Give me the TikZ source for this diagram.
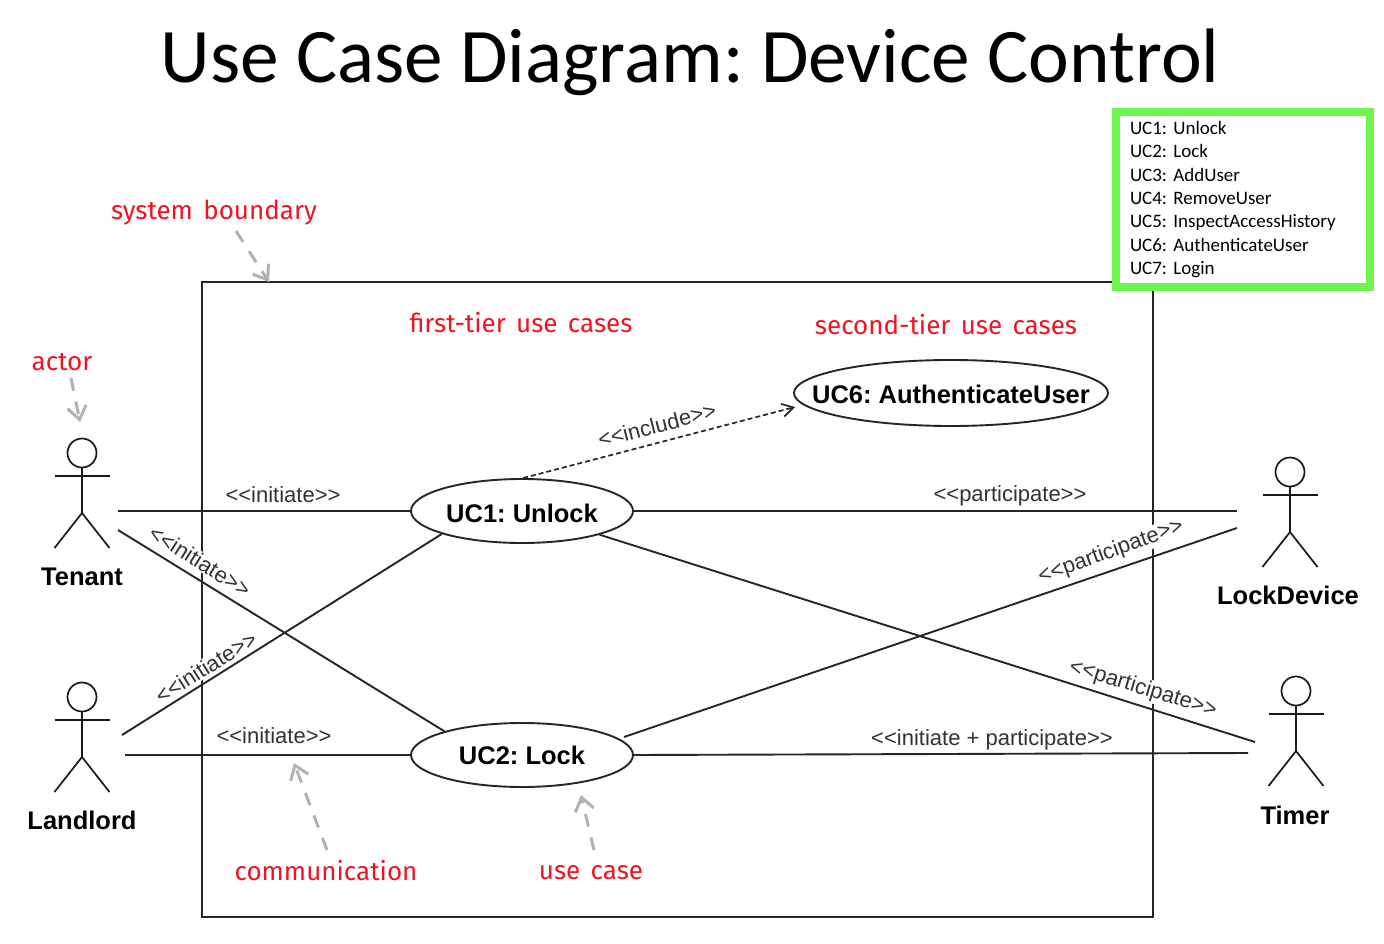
\documentclass[tikz,border=0pt]{standalone}
\usepackage{fontspec}
\setmainfont{Liberation Sans}
\newfontfamily\carlito{Carlito}
\newfontfamily\handfont[WordSpace=1.5]{Fira Sans}
\usetikzlibrary{shapes.geometric,arrows.meta}
\definecolor{notered}{RGB}{240,20,35}
\definecolor{legendgreen}{RGB}{112,245,80}
\tikzset{
  ucase/.style={draw=black!85,ellipse,line width=1.9pt,fill=white,inner sep=0pt,font=\fontsize{25.5}{30}\selectfont\bfseries},
  link/.style={draw=black!85,line width=1.9pt},
  incl/.style={draw=black!85,line width=1.7pt,dash pattern=on 5pt off 3pt,-{Straight Barb[length=11pt,width=13pt,line width=1.7pt]}},
  stereo/.style={font=\fontsize{22}{26}\selectfont,text=black!80,inner sep=1pt},
  stereow/.style={stereo,fill=white},
  note/.style={font=\handfont\fontsize{26}{30}\selectfont,text=notered,inner sep=1pt},
  pointer/.style={draw=black!30,line width=3pt,dash pattern=on 13pt off 11pt,-{Straight Barb[length=13pt,width=19pt,line width=3pt]}},
  actorname/.style={font=\fontsize{25.5}{30}\selectfont\bfseries,inner sep=1pt},
  stick/.style={draw=black!90,line width=1.7pt},
}
% actor: centre x, head y
\newcommand{\stickman}[3]{%
  \node[stick,circle,minimum size=29pt,inner sep=0pt] (#3head) at (#1,#2) {};
  \coordinate (#3hip) at (#1,#2+60);
  \draw[stick] (#3head) -- (#3hip);
  \draw[stick] (#1-27.5,#2+23) -- (#1+27.5,#2+23);
  \draw[stick] (#1-27.5,#2+95) -- (#3hip) -- (#1+27.5,#2+95);
}
\begin{document}
\frenchspacing
\begin{tikzpicture}[x=1pt,y=-1pt]
\useasboundingbox (0,0) rectangle (1384,944);
\fill[white] (0,0) rectangle (1384,944);

\node[inner sep=0pt,font=\carlito\fontsize{77.2}{82}\selectfont] (title) at (690,62) {Use Case Diagram: Device Control};

% system boundary
\node[draw=black!85,line width=1.9pt,minimum width=951pt,minimum height=635pt,inner sep=0pt,outer sep=0pt] (system) at (677.5,599.5) {};

% use cases
\node[ucase,minimum width=222pt,minimum height=64pt] (uc1) at (522,511) {\makebox[0pt]{\raisebox{-11.2pt}[8pt][8pt]{UC1: Unlock}}};
\node[ucase,minimum width=222pt,minimum height=64pt] (uc2) at (522,755) {\makebox[0pt]{UC2: Lock}};
\node[ucase,minimum width=314pt,minimum height=66pt] (uc6) at (951,393) {\makebox[0pt]{\raisebox{-10.2pt}[8pt][8pt]{UC6: AuthenticateUser}}};

% actors
\stickman{82}{453}{tenant}
\stickman{82}{697}{landlord}
\stickman{1290}{472}{lockdev}
\stickman{1296}{691}{timer}
\node[actorname] (tenantname) at (82,577) {Tenant};
\node[actorname] (landlordname) at (82,820) {Landlord};
\node[actorname] (lockdevname) at (1288,595) {LockDevice};
\node[actorname] (timername) at (1295,815) {Timer};

% connector ends
\coordinate (ta) at (118,511);
\coordinate (tb) at (118,530);
\coordinate (la) at (122,735);
\coordinate (lb) at (125,755);
\coordinate (da) at (1237,511);
\coordinate (db) at (1237,528);
\coordinate (ma) at (1255,742);
\coordinate (mb) at (1248,753);
\coordinate (u2out) at (624,737);
\coordinate (u6in) at (795,407);

% connectors
\draw[link] (ta) -- (uc1.west);
\draw[link] (tb) -- (uc2.163);
\draw[link] (la) -- (uc1.196);
\draw[link] (lb) -- (uc2.west);
\draw[link] (uc1.east) -- (da);
\draw[link] (uc1.-17) -- (ma);
\draw[link] (u2out) -- (db);
\draw[link] (uc2.east) -- (mb);
\draw[incl] (uc1.88) -- (u6in);

% stereotypes
\node[stereo] (s1) at (283,495) {<{}<initiate>{}>};
\node[stereow,rotate=-32] (s2) at (200,561) {<{}<initiate>{}>};
\node[stereow,rotate=32] (s3) at (206,667) {<{}<initiate>{}>};
\node[stereo] (s4) at (274,736) {<{}<initiate>{}>};
\node[stereo,rotate=14.5] (s5) at (657,425) {<{}<include>{}>};
\node[stereo] (s6) at (1010,496) {<{}<participate>{}>};
\node[stereow,rotate=20] (s7) at (1111,552) {<{}<participate>{}>};
\node[stereow,rotate=-17] (s8) at (1143,689) {<{}<participate>{}>};
\node[stereo] (s9) at (992,740) {<{}<initiate + participate>{}>};

% annotations
\node[note] (nsys) at (214,213) {system boundary};
\node[note] (nfirst) at (521,323) {first-tier use cases};
\node[note] (nsecond) at (946,325) {second-tier use cases};
\node[note] (nactor) at (62,362) {actor};
\node[note] (ncomm) at (326,871) {communication};
\node[note] (nuse) at (591,873) {use case};

\coordinate (psys) at (269,282);
\coordinate (pact) at (80,422);
\coordinate (pcomm) at (294,763);
\coordinate (puse) at (581,795);
\draw[pointer] (236,231) -- (psys);
\draw[pointer] (71,378) -- (pact);
\draw[pointer] (327,850) -- (pcomm);
\draw[pointer] (594,850) -- (puse);

% legend
\node[draw=legendgreen,line width=8pt,fill=white,minimum width=254pt,minimum height=175pt,inner xsep=14pt,inner ysep=0pt,anchor=north west,align=left,text width=226pt,font=\carlito\fontsize{19}{23.4}\selectfont] (legend) at (1112,108) {UC1: Unlock\\UC2: Lock\\UC3: AddUser\\UC4: RemoveUser\\UC5: InspectAccessHistory\\UC6: AuthenticateUser\\UC7: Login};
\end{tikzpicture}
\end{document}
